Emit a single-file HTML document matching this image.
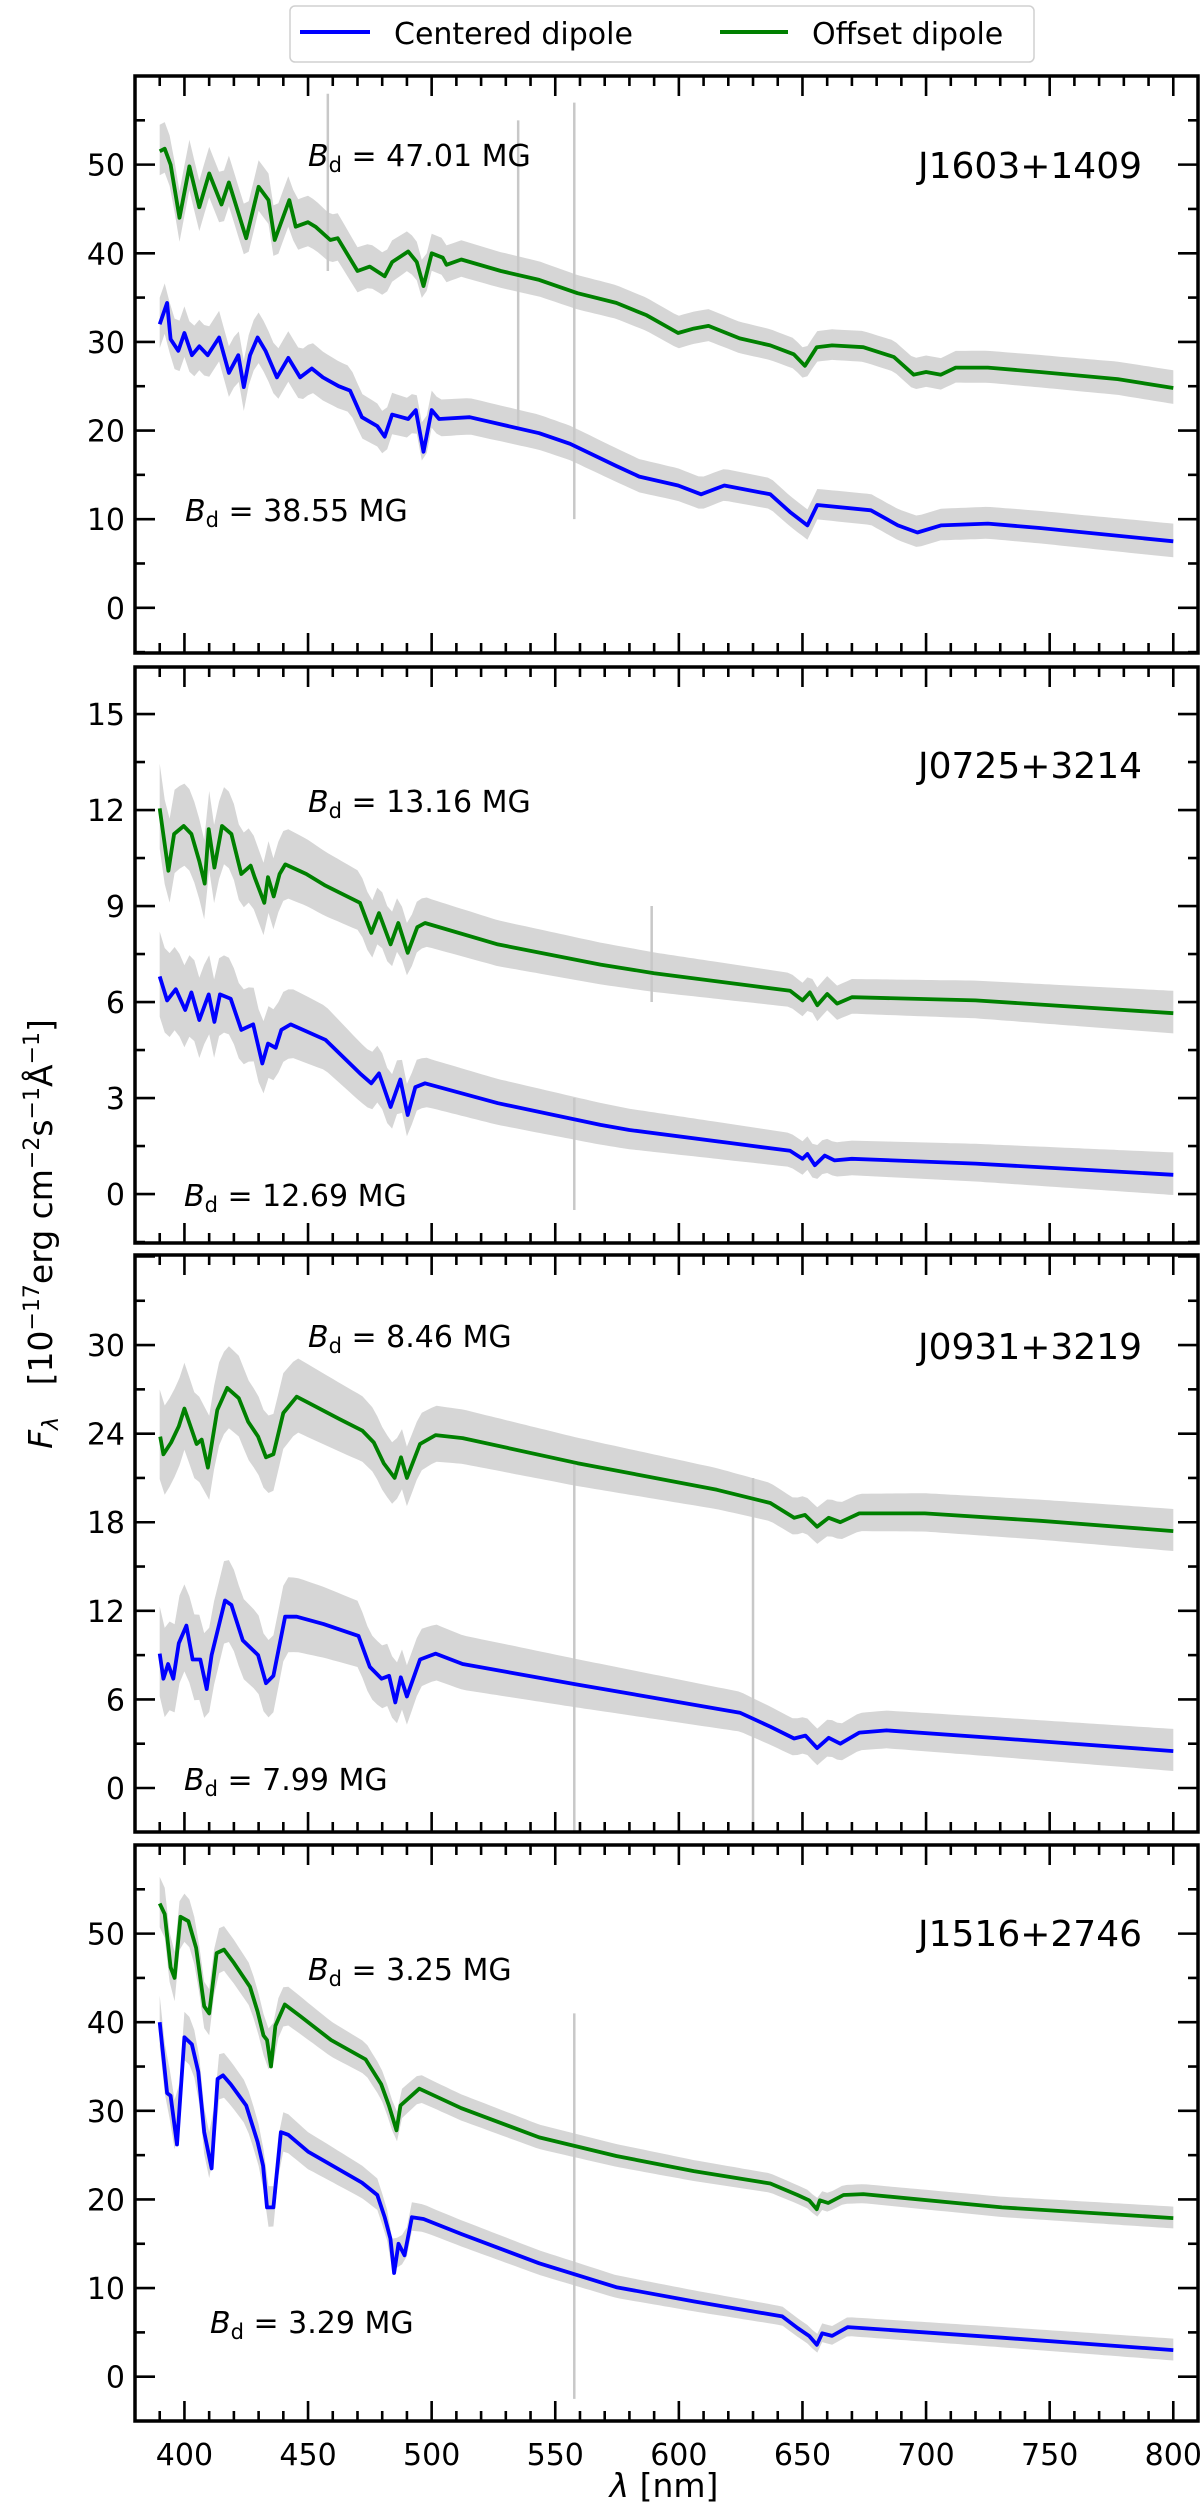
<!DOCTYPE html>
<html><head><meta charset="utf-8"><style>
html,body{margin:0;padding:0;background:#fff;}
svg{display:block;font-family:"DejaVu Sans","Liberation Sans",sans-serif;}
</style></head><body>
<svg id="fig" width="1200" height="2509" viewBox="0 0 1200 2509" xmlns="http://www.w3.org/2000/svg">
<g>
<rect x="290" y="6" width="744" height="56" rx="5" fill="#fff" stroke="#d0d0d0" stroke-width="1.5"/>
<line x1="300" y1="32" x2="370" y2="32" stroke="#0000ff" stroke-width="4"/>
<text x="394" y="44" font-size="30">Centered dipole</text>
<line x1="720" y1="32" x2="788" y2="32" stroke="#008000" stroke-width="4"/>
<text x="812" y="44" font-size="30">Offset dipole</text>
</g>
<text transform="translate(52,1234) rotate(-90)" text-anchor="middle" font-size="33"><tspan font-style="italic">F</tspan><tspan font-size="22" dy="6" font-style="italic">λ</tspan><tspan dy="-6" xml:space="preserve">   [10</tspan><tspan font-size="22" dy="-13">−17</tspan><tspan dy="13">erg cm</tspan><tspan font-size="22" dy="-13">−2</tspan><tspan dy="13">s</tspan><tspan font-size="22" dy="-13">−1</tspan><tspan dy="13">Å</tspan><tspan font-size="22" dy="-13">−1</tspan><tspan dy="13">]</tspan></text>
<text x="664" y="2497" text-anchor="middle" font-size="33"><tspan font-style="italic">λ</tspan> [nm]</text>
</svg>
<script>
// ---- data arrays ----
const xTicks = [400,450,500,550,600,650,700,750,800];
const xTickLabels = ["400","450","500","550","600","650","700","750","800"];
const noiseNm = [390,450,500,650,800];

const p1Name = "J1603+1409";
const p1Yticks = [0,10,20,30,40,50];
const p1Offset = [[390,51.5],[392,51.8],[394.4,50],[398,44],[402,49.8],[406,45.2],[410,49],[415,45.5],[418,48],[425,41.7],[430,47.5],[434,46],[436.5,41.5],[442.4,46],[445,43],[450,43.5],[453,43],[459,41.5],[462,41.7],[470,38],[475,38.5],[481,37.4],[484,39],[490.5,40.2],[494,39],[496.7,36.3],[500,40],[504.5,39.5],[506,38.7],[512,39.3],[528,38],[543.5,37],[559,35.5],[574.7,34.4],[587,33],[599.7,31],[606,31.5],[612,31.8],[624.6,30.4],[637,29.6],[646.5,28.6],[651,27.3],[655.8,29.4],[662,29.6],[674.6,29.4],[687,28.3],[695,26.3],[700,26.6],[706,26.3],[712,27.1],[725,27.1],[746,26.6],[777.5,25.8],[800,24.8]];
const p1Centered = [[390,32],[393,34.4],[394.4,30.3],[397.5,29],[400,31],[403,28.5],[406,29.5],[409.4,28.5],[414,30.5],[418,26.5],[421.8,28.5],[424,24.9],[426.5,28.5],[429.6,30.5],[432.8,29],[437.4,26],[442,28.2],[446.8,26],[451.5,27],[456,26],[462.4,25],[467,24.5],[471.8,21.5],[478,20.5],[481,19.3],[484,21.8],[490.5,21.3],[493.6,22.3],[496.7,17.6],[500,22.3],[503,21.3],[515.4,21.5],[543.5,19.7],[556,18.5],[574.7,16],[584,14.8],[599.7,13.8],[609,12.8],[618.4,13.8],[637,12.8],[645,10.8],[652,9.3],[656,11.6],[677.7,11],[688.6,9.3],[696.5,8.5],[706,9.3],[725,9.5],[746,9],[800,7.5]];
const p1Noise = [3,3,2.2,1.8,2];
const p1Spikes = [[458,38,58],[535,20,55],[557.7,10,57]];

const p2Name = "J0725+3214";
const p2Yticks = [0,3,6,9,12,15];
const p2Offset = [[390,12.05],[393.5,10.1],[395.8,11.25],[399.7,11.5],[402.8,11.25],[406,10.4],[408.2,9.7],[409.8,11.4],[412.1,10.2],[415.2,11.5],[419,11.25],[423,10],[426.8,10.26],[428.4,9.9],[432.3,9.1],[433.8,9.9],[436.1,9.3],[438.5,10],[440.8,10.3],[449.3,10],[457,9.64],[471,9.1],[475.6,8.16],[478.7,8.78],[483.4,7.8],[486.5,8.47],[490.3,7.54],[494.2,8.34],[497.3,8.47],[526.8,7.8],[568.3,7.17],[590,6.9],[630,6.5],[645,6.35],[650,6.05],[653,6.3],[656,5.9],[660,6.25],[664,5.95],[670,6.15],[720,6.05],[800,5.65]];
const p2Centered = [[390,6.8],[393,6.05],[396.5,6.4],[400.3,5.75],[402.8,6.3],[406,5.44],[409.8,6.24],[412.1,5.38],[414.4,6.24],[418.7,6.1],[423,5.13],[427.8,5.3],[431.5,4.08],[433.8,4.7],[436.9,4.57],[439.2,5.13],[443,5.3],[457,4.82],[471,3.77],[475.6,3.46],[478.7,3.77],[483.4,2.72],[487.3,3.58],[490.3,2.47],[493.4,3.34],[497.3,3.46],[526.8,2.84],[568.3,2.16],[580,2.0],[620,1.6],[645,1.35],[650,1.1],[652,1.25],[655,0.9],[659,1.2],[663,1.05],[670,1.1],[720,0.95],[800,0.6]];
const p2Noise = [1.4,1.1,0.8,0.55,0.7];
const p2Spikes = [[557.7,-0.5,3],[589,6,9]];

const p3Name = "J0931+3219";
const p3Yticks = [0,6,12,18,24,30];
const p3Offset = [[390.2,23.8],[391.5,22.6],[394.6,23.4],[397.7,24.5],[400,25.7],[404.9,23.3],[407,23.6],[409.5,21.7],[413.3,25.6],[417.3,27.1],[422,26.4],[425.8,24.8],[429.8,23.8],[433,22.4],[436,22.6],[440,25.4],[445.4,26.5],[450,26.1],[462.6,25],[472,24.2],[476.6,23.4],[480.6,22],[485,21],[487.6,22.4],[490,21],[495.3,23.3],[501.6,23.9],[512.5,23.7],[559,22],[615.4,20.2],[637,19.3],[646.6,18.3],[651,18.5],[655.9,17.7],[660.6,18.3],[665.3,18],[673,18.6],[699.5,18.6],[746.3,18.1],[800,17.4]];
const p3Centered = [[390,9.1],[391.5,7.4],[393.4,8.4],[395.5,7.4],[397.7,9.8],[400.8,11],[403.3,8.7],[406.4,8.7],[409,6.7],[411,9],[416.4,12.7],[419,12.4],[423.6,10],[429.8,9],[433,7.1],[436,7.6],[440.7,11.6],[445.4,11.6],[456.3,11.1],[470.4,10.3],[475,8.2],[479.7,7.4],[482.8,7.6],[485.3,5.8],[487.5,7.5],[490,6.2],[495.3,8.7],[501.6,9.1],[512.5,8.4],[559,7],[624.7,5.1],[637,4.15],[646.6,3.35],[651.2,3.55],[655.9,2.7],[660.6,3.4],[665.3,3],[673,3.75],[684,3.9],[730.7,3.35],[800,2.5]];
const p3Noise = [3.2,2.6,2,1.3,1.5];
const p3Spikes = [[557.7,-3,22],[630,-3,21]];

const p4Name = "J1516+2746";
const p4Yticks = [0,10,20,30,40,50];
const p4Offset = [[390,53.4],[392,52.2],[394.4,46.2],[396,45],[398.4,51.9],[401.6,51.4],[404.7,48.4],[408,41.8],[410,41],[413,47.8],[416,48.2],[420,46.7],[426.5,44],[429.6,41.2],[432,38.5],[433.4,38],[435,35],[436.8,39.6],[440.6,42],[446.8,40.7],[459.3,38],[473.3,35.8],[479.6,33],[482.7,30.6],[485.8,27.8],[487.4,30.6],[495,32.5],[512,30.3],[543.5,27],[574.7,24.9],[606,23.2],[637,21.8],[648,20.5],[652.7,19.9],[655.8,18.9],[657,19.9],[660.4,19.6],[666.6,20.5],[674.6,20.6],[730.7,19.1],[800,17.9]];
const p4Centered = [[390,40],[393,32],[394.4,31.7],[397,26.2],[400,38.3],[403,37.5],[405.6,34.4],[408,27.6],[411,23.5],[413.4,33.6],[415.6,34],[418.7,33],[425,30.6],[429.6,26.5],[431.8,23.8],[433.4,19.1],[436,19.1],[439,27.6],[442,27.3],[450,25.4],[471.8,21.9],[478,20.5],[481,18],[483.3,15.6],[484.8,11.7],[486.6,15],[489,13.7],[492,18],[496.7,17.8],[512,16.1],[543.5,12.8],[574.7,10.1],[606,8.5],[641.8,6.8],[648,5.5],[652.7,4.6],[655.8,3.6],[658,4.9],[662,4.6],[668.3,5.6],[730.7,4.4],[800,3.0]];
const p4Noise = [3,2.2,1.6,1.1,1.3];
const p4Spikes = [[557.7,-2.5,41]];

const p1Labels = ["47.01","38.55"], p2Labels=["13.16","12.69"], p3Labels=["8.46","7.99"], p4Labels=["3.25","3.29"];

// ---- layout (not data) ----
const NS="http://www.w3.org/2000/svg";
const svg=document.getElementById('fig');
const X0=135, X1=1198, XMIN=380, XMAX=810;
function xs(v){return X0+(v-XMIN)/(XMAX-XMIN)*(X1-X0);}
const panels=[
 {name:p1Name,yt:p1Yticks,off:p1Offset,cen:p1Centered,noise:p1Noise,spk:p1Spikes,lab:p1Labels,top:76,bot:653,ymin:-5.1,ymax:60.0,minor:5,
  tOff:[308,166],tCen:[185,521],jy:166},
 {name:p2Name,yt:p2Yticks,off:p2Offset,cen:p2Centered,noise:p2Noise,spk:p2Spikes,lab:p2Labels,top:667,bot:1243,ymin:-1.53,ymax:16.47,minor:1.5,
  tOff:[308,812],tCen:[184,1206],jy:766},
 {name:p3Name,yt:p3Yticks,off:p3Offset,cen:p3Centered,noise:p3Noise,spk:p3Spikes,lab:p3Labels,top:1255,bot:1832,ymin:-2.98,ymax:36.1,minor:3,
  tOff:[308,1347],tCen:[184,1790],jy:1347},
 {name:p4Name,yt:p4Yticks,off:p4Offset,cen:p4Centered,noise:p4Noise,spk:p4Spikes,lab:p4Labels,top:1845,bot:2421,ymin:-5.0,ymax:60.0,minor:5,
  tOff:[308,1980],tCen:[210,2333],jy:1934}
];
function mk(tag,attrs,parent){const e=document.createElementNS(NS,tag);for(const k in attrs)e.setAttribute(k,attrs[k]);(parent||svg).appendChild(e);return e;}
function interp(arr,x){
 if(x<=arr[0][0])return arr[0][1];
 for(let i=1;i<arr.length;i++){if(x<=arr[i][0]){const a=arr[i-1],b=arr[i];return a[1]+(b[1]-a[1])*(x-a[0])/(b[0]-a[0]);}}
 return arr[arr.length-1][1];
}
panels.forEach((p,pi)=>{
 const ys=v=>p.bot-(v-p.ymin)/(p.ymax-p.ymin)*(p.bot-p.top);
 const g=mk('g',{});
 
 
 const clipId='clip'+pi;
 const cp=mk('clipPath',{id:clipId},g);
 mk('rect',{x:X0,y:p.top,width:X1-X0,height:p.bot-p.top},cp);
 const plot=mk('g',{'clip-path':'url(#'+clipId+')'},g);
 const noiseArr=noiseNm.map((n,i)=>[n,p.noise[i]]);
 [p.off,p.cen].forEach((ser,si)=>{
  const up=[],lo=[];
  for(let nm=390;nm<=800;nm+=2){const v=interp(ser,nm),a=interp(noiseArr,nm);up.push(xs(nm).toFixed(1)+','+ys(v+a).toFixed(1));lo.unshift(xs(nm).toFixed(1)+','+ys(v-a*0.9).toFixed(1));}
  const band=mk('polygon',{points:up.concat(lo).join(' '),fill:'#d6d6d6',stroke:'none'},plot);
  
  
 });
 p.spk.forEach(s=>{
  const l=mk('line',{x1:xs(s[0]),x2:xs(s[0]),y1:ys(s[1]),y2:ys(s[2]),stroke:'#c8c8c8','stroke-width':2.5},plot);
  
  
 });
 const lo=mk('polyline',{points:p.off.map(d=>xs(d[0]).toFixed(1)+','+ys(d[1]).toFixed(1)).join(' '),fill:'none',stroke:'#008000','stroke-width':3.8,'stroke-linejoin':'round'},plot);
 
 
 const lc=mk('polyline',{points:p.cen.map(d=>xs(d[0]).toFixed(1)+','+ys(d[1]).toFixed(1)).join(' '),fill:'none',stroke:'#0000ff','stroke-width':3.8,'stroke-linejoin':'round'},plot);
 
 
 const tk=mk('g',{stroke:'#000','stroke-width':2.6},g);
 
 
 for(let nm=390;nm<=810;nm+=10){
  const major=nm%50===0, L=major?20:10, x=xs(nm);
  mk('line',{x1:x,x2:x,y1:p.top,y2:p.top+L},tk);
  mk('line',{x1:x,x2:x,y1:p.bot,y2:p.bot-L},tk);
 }
 const step=p.yt[1]-p.yt[0];
 for(let v=Math.ceil(p.ymin/p.minor)*p.minor;v<=p.ymax;v+=p.minor){
  const major=Math.abs(v/step-Math.round(v/step))<1e-6, L=major?20:10, y=ys(v);
  mk('line',{x1:X0,x2:X0+L,y1:y,y2:y},tk);
  mk('line',{x1:X1,x2:X1-L,y1:y,y2:y},tk);
 }
 p.yt.forEach(v=>{
  const t=mk('text',{x:X0-10,y:ys(v)+11,'text-anchor':'end','font-size':30},g);
  t.textContent=String(v);
  
  
 });
 const fr=mk('rect',{x:X0,y:p.top,width:X1-X0,height:p.bot-p.top,fill:'none',stroke:'#000','stroke-width':3.5},g);
 
 
 const jn=mk('text',{x:1142,y:p.jy+12,'text-anchor':'end','font-size':36},g);
 jn.textContent=p.name;
 
 
 [[p.tOff,p.lab[0],'offset-field-label'],[p.tCen,p.lab[1],'centered-field-label']].forEach(a=>{
  const t=mk('text',{x:a[0][0],y:a[0][1],'font-size':30},g);
  t.innerHTML='<tspan font-style="italic">B</tspan><tspan font-size="21" dy="6">d</tspan><tspan dy="-6"> = '+a[1]+' MG</tspan>';
  
  
 });
 if(pi===3){
  xTicks.forEach((v,i)=>{
   const t=mk('text',{x:xs(v),y:p.bot+44,'text-anchor':'middle','font-size':30},g);
   t.textContent=xTickLabels[i];
   
   
  });
 }
});
</script>
</body></html>
